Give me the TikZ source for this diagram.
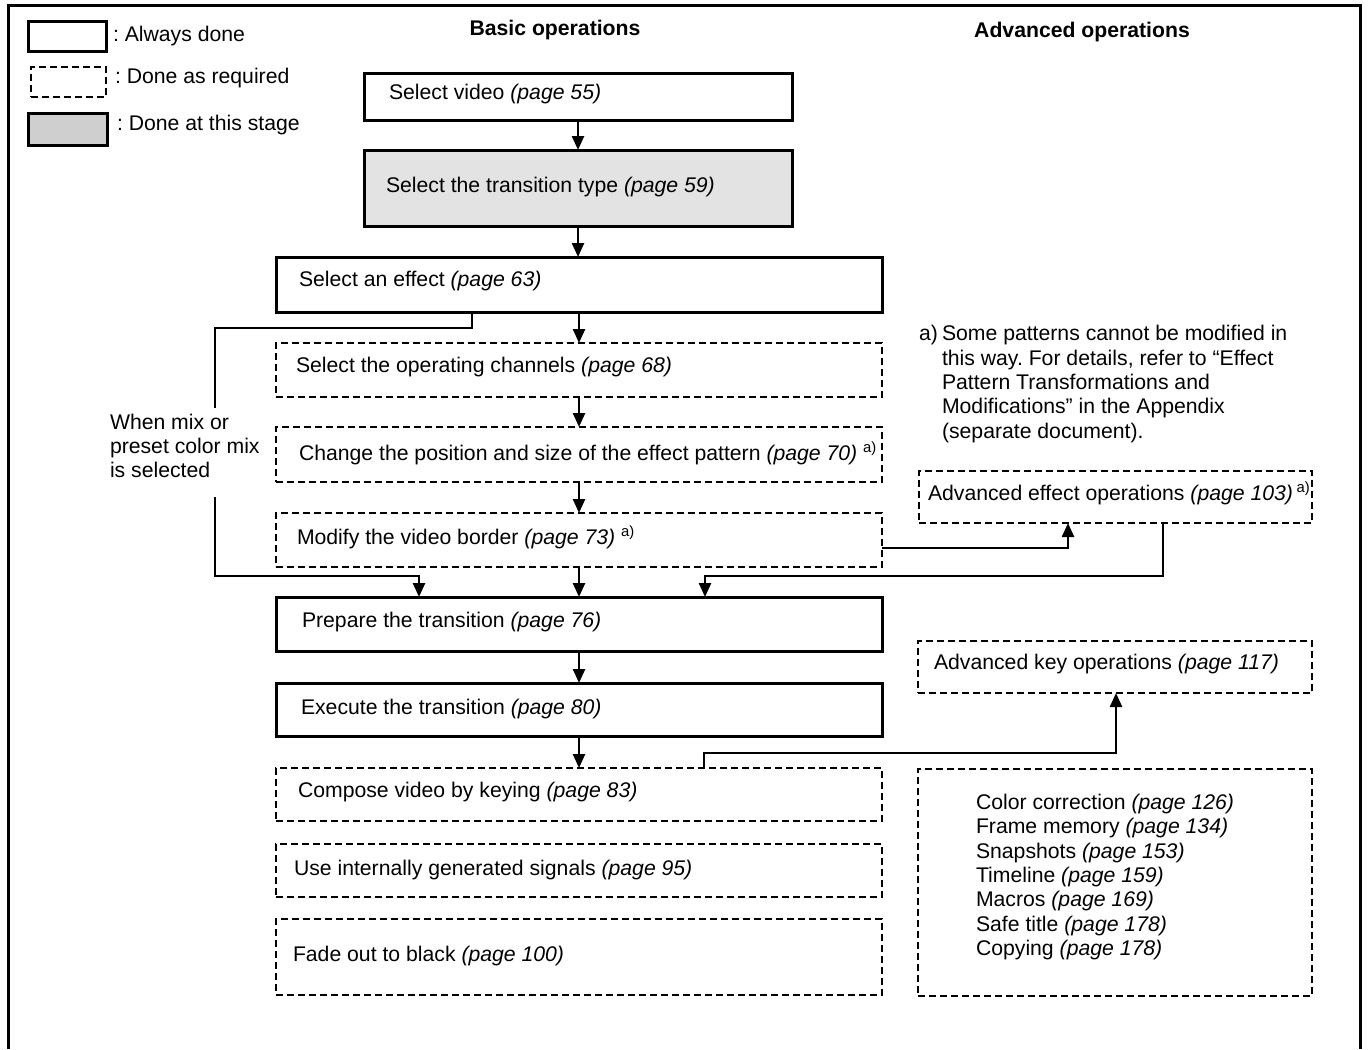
\documentclass[tikz,border=0pt]{standalone}
\usepackage{fontspec}
\setmainfont{Liberation Sans}
\usetikzlibrary{arrows.meta}
\definecolor{legendgray}{gray}{0.81}
\definecolor{stagegray}{gray}{0.89}
\newcommand{\dgfs}{\fontsize{10.6pt}{12.2pt}\selectfont\frenchspacing}
\begin{document}
\begin{tikzpicture}[x=0.5pt,y=-0.5pt,
  every node/.style={font=\dgfs, inner sep=0pt, outer sep=0pt},
  bx/.style={anchor=north west, inner sep=0pt, outer sep=0pt},
  always/.style={bx, draw, line width=1.5pt},
  stage/.style={always, fill=stagegray},
  asreq/.style={bx, draw, line width=0.9pt, dash pattern=on 3.5pt off 2pt},
  lbl/.style={anchor=west, align=left},
  conn/.style={line width=1.2pt},
  arr/.style={conn, -{Triangle[length=7pt,width=6pt]}}]
\useasboundingbox (0,0) rectangle (1368,1049);
\draw[line width=1.5pt] (8.5,1049) -- (8.5,5) -- (1360,5) -- (1360,1049);

% legend
\node[always, minimum width=39pt, minimum height=15pt] (lg1) at (28,21) {};
\node[lbl] (lg1t) at (113,36) {: Always done};
\node[asreq, minimum width=37.5pt, minimum height=15pt] (lg2) at (31,67) {};
\node[lbl] (lg2t) at (115,78) {: Done as required};
\node[always, fill=legendgray, minimum width=39.5pt, minimum height=16pt] (lg3) at (28,113) {};
\node[lbl] (lg3t) at (117,125) {: Done at this stage};

% headers
\node[font=\dgfs\bfseries] (hbas) at (555,30) {Basic operations};
\node[font=\dgfs\bfseries] (hadv) at (1082,32) {Advanced operations};

% basic column
\node[always, minimum width=214pt, minimum height=23.5pt] (sel) at (364,73) {};
\node[lbl] (selt) at (389,94) {Select video \textit{(page 55)}};
\node[stage, minimum width=214pt, minimum height=38pt] (typ) at (364,150) {};
\node[lbl] (typt) at (386,187) {Select the transition type \textit{(page 59)}};
\node[always, minimum width=303pt, minimum height=27.5pt] (eff) at (276,257) {};
\node[lbl] (efft) at (299,281) {Select an effect \textit{(page 63)}};
\node[asreq, minimum width=303pt, minimum height=27pt] (chan) at (276,343) {};
\node[lbl] (chant) at (296,367) {Select the operating channels \textit{(page 68)}};
\node[asreq, minimum width=303pt, minimum height=27.5pt] (pos) at (276,427) {};
\node[lbl] (post) at (299,453) {Change the position and size of the effect pattern \textit{(page 70)} \textsuperscript{a)}};
\node[asreq, minimum width=303pt, minimum height=27pt] (bord) at (276,513) {};
\node[lbl] (bordt) at (297,537) {Modify the video border \textit{(page 73)} \textsuperscript{a)}};
\node[always, minimum width=303pt, minimum height=27pt] (prep) at (276,597) {};
\node[lbl] (prept) at (302,622) {Prepare the transition \textit{(page 76)}};
\node[always, minimum width=303pt, minimum height=26.5pt] (exec) at (276,683) {};
\node[lbl] (exect) at (301,709) {Execute the transition \textit{(page 80)}};
\node[asreq, minimum width=303pt, minimum height=26.5pt] (comp) at (276,768) {};
\node[lbl] (compt) at (298,792) {Compose video by keying \textit{(page 83)}};
\node[asreq, minimum width=303pt, minimum height=26.5pt] (sig) at (276,844) {};
\node[lbl] (sigt) at (294,870) {Use internally generated signals \textit{(page 95)}};
\node[asreq, minimum width=303pt, minimum height=38pt] (fade) at (276,919) {};
\node[lbl] (fadet) at (293,956) {Fade out to black \textit{(page 100)}};

% advanced column
\node[lbl] (fna) at (919,335) {a)};
\node[lbl] (fnt) at (942,384) {Some patterns cannot be modified in\\this way. For details, refer to “Effect\\Pattern Transformations and\\Modifications” in the Appendix\\(separate document).};
\node[asreq, minimum width=196.5pt, minimum height=26pt] (aeff) at (919,471) {};
\node[lbl] (aefft) at (928,493) {Advanced effect operations \textit{(page 103)}\,\textsuperscript{a)}};
\node[asreq, minimum width=197pt, minimum height=26pt] (akey) at (918,641) {};
\node[lbl] (akeyt) at (934,664) {Advanced key operations \textit{(page 117)}};
\node[asreq, minimum width=197pt, minimum height=113.5pt] (alist) at (918,769) {};
\node[lbl] (alistt) at (976,877) {Color correction \textit{(page 126)}\\Frame memory \textit{(page 134)}\\Snapshots \textit{(page 153)}\\Timeline \textit{(page 159)}\\Macros \textit{(page 169)}\\Safe title \textit{(page 178)}\\Copying \textit{(page 178)}};

% branch label
\node[lbl] (mix) at (110,446) {When mix or\\preset color mix\\is selected};

% main chain
\draw[arr] (sel.south) -- (typ.north);
\draw[arr] (typ.south) -- (typ.south |- eff.north);
\draw[arr] (eff.south) -- (chan.north);
\draw[arr] (chan.south) -- (pos.north);
\draw[arr] (pos.south) -- (bord.north);
\draw[arr] (bord.south) -- (prep.north);
\draw[arr] (prep.south) -- (exec.north);
\draw[arr] (exec.south) -- (comp.north);

% mix branch
\coordinate (brA) at (472,328);
\coordinate (brB) at (215,408);
\coordinate (brC) at (215,497);
\coordinate (brD) at (419,576);
\draw[conn] (eff.south -| brA) -- (brA) -| (brB);
\draw[arr] (brC) |- (brD) -- (prep.north -| brD);

% advanced effect loop
\coordinate (ef1) at (1068,548);
\coordinate (ef2) at (1163,576);
\coordinate (ef3) at (705,576);
\draw[arr] (bord.east |- ef1) -- (ef1) -- (aeff.south -| ef1);
\draw[arr] (aeff.south -| ef2) -- (ef2) -- (ef3) -- (prep.north -| ef3);

% key branch
\coordinate (ky1) at (704,753);
\coordinate (ky2) at (1116,753);
\draw[arr] (comp.north -| ky1) -- (ky1) -- (ky2) -- (akey.south -| ky2);
\end{tikzpicture}
\end{document}
